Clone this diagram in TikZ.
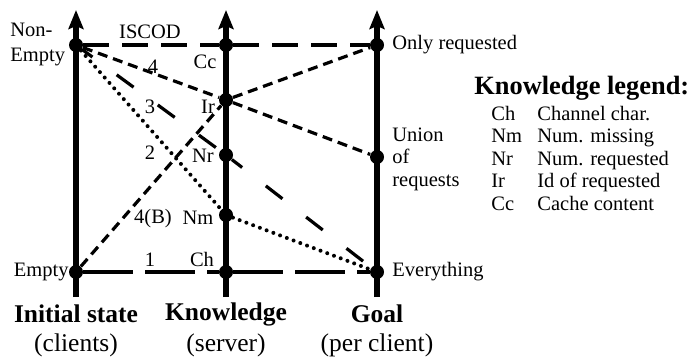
\documentclass[tikz,border=0pt]{standalone}
\usepackage{fontspec}
\setmainfont{Liberation Serif}
\usetikzlibrary{arrows.meta}
\begin{document}
\begin{tikzpicture}[x=0.5pt,y=-0.5pt,
    axis/.style={line width=2.7pt,-{Stealth[length=9.5pt,width=7.5pt,inset=1.5pt]}},
    state/.style={circle,fill,inner sep=0pt,minimum size=7pt},
    lbl/.style={font=\fontsize{10.25}{11.25}\selectfont,inner sep=0pt},
    head/.style={font=\fontsize{12.75}{14}\selectfont\bfseries,inner sep=0pt},
    sub/.style={font=\fontsize{12.75}{14}\selectfont,inner sep=0pt},
    iscod/.style={line width=2.2pt,dash pattern=on 13pt off 6.5pt},
    chline/.style={line width=1.7pt,dash pattern=on 25pt off 6pt},
    nrline/.style={line width=1.6pt,dash pattern=on 10.5pt off 15pt,dash phase=4pt},
    irline/.style={line width=1.6pt,dash pattern=on 5pt off 3pt},
    nmline/.style={line width=2pt,line cap=round,dash pattern=on 0pt off 3.6pt}]
  \useasboundingbox (0,0) rectangle (688,358);
  % axes
  \coordinate (b0) at (76,297);  \coordinate (t0) at (76,10);
  \coordinate (b1) at (226,297); \coordinate (t1) at (226,10);
  \coordinate (b2) at (377,297); \coordinate (t2) at (377,10);
  \draw[axis] (b0) -- (t0);
  \draw[axis] (b1) -- (t1);
  \draw[axis] (b2) -- (t2);
  % states
  \draw
    (76,45) node[state] (ne){}
    (76,272) node[state] (em){}
    (226,45) node[state] (cc){}
    (226,100) node[state] (ir){}
    (226,155) node[state] (nr){}
    (226,215) node[state] (nm){}
    (226,272) node[state] (ch){}
    (377,45) node[state] (or){}
    (377,157) node[state] (un){}
    (377,272) node[state] (ev){};
  % approaches
  \begin{scope}
    \draw[iscod] (ne) -- (cc) -- (or);
    \draw[chline] (em) -- (ch) -- (ev);
    \draw[irline] (ne) -- (ir) -- (un);
    \draw[irline] (em) -- (ir) -- (or);
    \draw[nrline] (ne) -- (nr) -- (ev);
    \draw[nmline] (ne) -- (nm) -- (ev);
  \end{scope}
  % labels
  \node[lbl] (liscod) at (150,32) {ISCOD};
  \node[lbl] (l4) at (153,67) {4};
  \node[lbl] (l3) at (150,107) {3};
  \node[lbl] (l2) at (150,153) {2};
  \node[lbl] (l4b) at (153,219) {4(B)};
  \node[lbl] (l1) at (150,260) {1};
  \node[lbl] (lcc) at (205,62) {Cc};
  \node[lbl] (lir) at (208,107) {Ir};
  \node[lbl] (lnr) at (203,156) {Nr};
  \node[lbl] (lnm) at (198,218) {Nm};
  \node[lbl] (lch) at (202,259) {Ch};
  \node[lbl,font=\fontsize{10.25}{12.5}\selectfont,align=left,anchor=west] (lne) at (10,45) {Non-\\Empty};
  \node[lbl,anchor=east] (lem) at (69,272) {Empty};
  \node[lbl,anchor=west] (lor) at (392,45) {Only requested};
  \node[lbl,align=left,anchor=west] (lun) at (392,159) {Union\\of\\requests};
  \node[lbl,anchor=west] (lev) at (392,272) {Everything};
  % axis titles
  \node[head] (a0) at (76,314) {Initial state};
  \node[sub] (s0) at (76,345) {(clients)};
  \node[head] (a1) at (226,314) {Knowledge};
  \node[sub] (s1) at (226,345) {(server)};
  \node[head] (a2) at (377,314) {Goal};
  \node[sub] (s2) at (377,345) {(per client)};
  % legend
  \node[head,font=\fontsize{13.2}{14}\selectfont\bfseries,anchor=west] (leg) at (474,88) {Knowledge legend:};
  \foreach \ab/\txt [count=\i] in {Ch/Channel char., Nm/Num. missing,
      Nr/Num. requested, Ir/Id of requested, Cc/Cache content}
  {
    \node[lbl,anchor=base west] (ab\i) at (491,{97.5+22.5*\i}) {\ab};
    \node[lbl,anchor=base west] (tx\i) at (537,{97.5+22.5*\i}) {\txt};
  }
\end{tikzpicture}
\end{document}
